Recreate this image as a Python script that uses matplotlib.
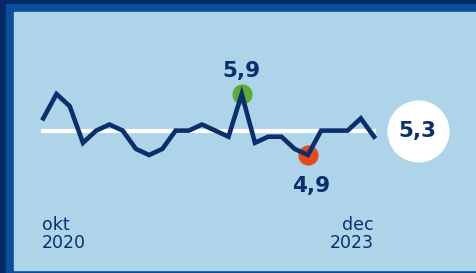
import matplotlib.pyplot as plt
from matplotlib.patches import Rectangle

# monthly-ish series, okt 2020 -> dec 2023
values = [5.5, 5.9, 5.7, 5.1, 5.3, 5.4, 5.3, 5.0, 4.9, 5.0, 5.3, 5.3, 5.4,
          5.3, 5.2, 5.9, 5.1, 5.2, 5.2, 5.0, 4.9, 5.3, 5.3, 5.3, 5.5, 5.2]
average = 5.3
max_idx = 15
min_idx = 20
start_label = ["okt", "2020"]
end_label = ["dec", "2023"]

navy = "#0a2f6c"
bg = "#aed4ea"
mid_blue = "#0b4f9b"
dark_blue = "#032a66"
green = "#5cab34"
red = "#e8481c"

plt.rcParams['font.family'] = ['DejaVu Sans']

fig = plt.figure(figsize=(4.77, 2.73), dpi=100)
fig.patch.set_facecolor(dark_blue)
W, H = 477, 273
fig.add_artist(Rectangle((6 / W, 0), 1, (H - 4) / H, transform=fig.transFigure,
                         color=mid_blue, zorder=0))
fig.add_artist(Rectangle((14 / W, 3 / H), 1, (H - 15) / H, transform=fig.transFigure,
                         color=bg, zorder=0))

ax = fig.add_axes([0, 0, 1, 1])
ax.set_facecolor("none")
ax.set_xlim(-3.27, 32.78)
ax.set_ylim(2.966, 7.441)
ax.axis("off")

n = len(values)
x = list(range(n))

ax.plot([0, n - 1], [average, average], color="white", lw=3.0,
        solid_capstyle="projecting", zorder=2)
ax.plot(x, values, color=navy, lw=3.3, solid_joinstyle="miter", zorder=4)

ax.scatter([max_idx], [values[max_idx]], s=210, color=green, zorder=3, lw=0)
ax.scatter([min_idx], [values[min_idx]], s=210, color=red, zorder=3, lw=0)

lab_kw = dict(color=navy, fontsize=15.5, fontweight="bold", ha="center")
ax.annotate(f"{values[max_idx]:.1f}".replace(".", ","), (max_idx, values[max_idx]),
            xytext=(0, 12), textcoords="offset points", va="baseline", **lab_kw)
ax.annotate(f"{values[min_idx]:.1f}".replace(".", ","), (min_idx, values[min_idx]),
            xytext=(2, -15), textcoords="offset points", va="top", **lab_kw)

# average badge
badge_x = 28.3
ax.scatter([badge_x], [average], s=2000, color="white", zorder=3, lw=0)
ax.text(badge_x, average, f"{average:.1f}".replace(".", ","), va="center",
        **lab_kw)

tkw = dict(color=navy, fontsize=12.5, va="baseline",
           transform=ax.get_xaxis_transform())
ax.text(-0.1, 1 - 230 / H, start_label[0], ha="left", **tkw)
ax.text(-0.1, 1 - 248 / H, start_label[1], ha="left", **tkw)
ax.text(n - 1, 1 - 230 / H, end_label[0], ha="right", **tkw)
ax.text(n - 1, 1 - 248 / H, end_label[1], ha="right", **tkw)

fig.savefig("out.png", dpi=100, facecolor=fig.get_facecolor())
